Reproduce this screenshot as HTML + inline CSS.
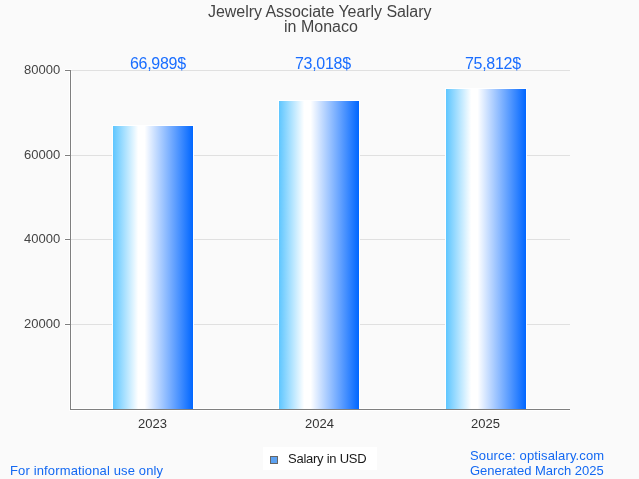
<!DOCTYPE html>
<html><head><meta charset="utf-8">
<style>
html,body{margin:0;padding:0;}
body{width:639px;height:479px;background:#fafafa;position:relative;overflow:hidden;font-family:"Liberation Sans",sans-serif;}
.t{position:absolute;white-space:nowrap;line-height:1;will-change:transform;}
#title1,#title2{color:#444;font-size:16px;}
.val{color:#1a6eff;font-size:16px;letter-spacing:-0.3px;}
.yl{color:#444;font-size:13px;}
.xl{color:#333;font-size:13px;}
.ft{color:#1469f2;font-size:13px;}
svg{position:absolute;left:0;top:0;}
</style></head><body>
<svg width="639" height="479" viewBox="0 0 639 479" shape-rendering="crispEdges">
<defs>
<linearGradient id="g" x1="0" y1="0" x2="1" y2="0">
<stop offset="0" stop-color="#5ec6ff"/>
<stop offset="0.315" stop-color="#ffffff"/>
<stop offset="0.395" stop-color="#ffffff"/>
<stop offset="1" stop-color="#0066ff"/>
</linearGradient>
</defs>
<!-- axis halos -->
<g fill="#ffffff">
<rect x="69" y="69" width="3" height="342"/>
<rect x="69" y="408" width="501" height="3"/>
<rect x="65" y="69" width="5" height="3"/><rect x="64" y="70" width="1" height="1"/>
<rect x="65" y="154" width="5" height="3"/><rect x="64" y="155" width="1" height="1"/>
<rect x="65" y="238" width="5" height="3"/><rect x="64" y="239" width="1" height="1"/>
<rect x="65" y="323" width="5" height="3"/><rect x="64" y="324" width="1" height="1"/>
</g>
<!-- gridlines -->
<g fill="#e0e0e0">
<rect x="71" y="70" width="499" height="1"/>
<rect x="71" y="155" width="499" height="1"/>
<rect x="71" y="239" width="499" height="1"/>
<rect x="71" y="324" width="499" height="1"/>
</g>
<!-- bars -->
<rect x="112" y="125" width="82" height="284" fill="#fff"/>
<rect x="113" y="126" width="80" height="283" fill="url(#g)"/>
<rect x="278" y="100" width="82" height="309" fill="#fff"/>
<rect x="279" y="101" width="80" height="308" fill="url(#g)"/>
<rect x="445" y="88" width="82" height="321" fill="#fff"/>
<rect x="446" y="89" width="80" height="320" fill="url(#g)"/>
<!-- axes -->
<g fill="#7f7f7f">
<rect x="70" y="70" width="1" height="340"/>
<rect x="70" y="409" width="500" height="1"/>
<rect x="65" y="70" width="5" height="1"/>
<rect x="65" y="155" width="5" height="1"/>
<rect x="65" y="239" width="5" height="1"/>
<rect x="65" y="324" width="5" height="1"/>
</g>
<!-- legend box -->
<rect x="263" y="447" width="114" height="23" fill="#ffffff"/>
<rect x="270" y="456" width="8" height="8" fill="#666"/>
<rect x="271" y="457" width="6" height="6" fill="#5ca2f2"/>
</svg>
<div class="t" id="title1" style="left:208px;top:4px;letter-spacing:-0.05px;">Jewelry Associate Yearly Salary</div>
<div class="t" id="title2" style="left:284px;top:19px;">in Monaco</div>
<div class="t val" id="v1" style="left:130px;top:56px;">66,989$</div>
<div class="t val" id="v2" style="left:295px;top:56px;">73,018$</div>
<div class="t val" id="v3" style="left:465px;top:56px;">75,812$</div>
<div class="t yl" id="y80" style="left:24px;top:63px;">80000</div>
<div class="t yl" id="y60" style="left:24px;top:148px;">60000</div>
<div class="t yl" id="y40" style="left:24px;top:232px;">40000</div>
<div class="t yl" id="y20" style="left:24px;top:317px;">20000</div>
<div class="t xl" id="x1" style="left:138px;top:417px;">2023</div>
<div class="t xl" id="x2" style="left:305px;top:417px;">2024</div>
<div class="t xl" id="x3" style="left:471px;top:417px;">2025</div>
<div class="t" id="leg" style="left:288px;top:452px;font-size:13px;color:#1a1a1a;letter-spacing:-0.25px;">Salary in USD</div>
<div class="t ft" id="f1" style="left:10px;top:464px;letter-spacing:0.14px;">For informational use only</div>
<div class="t ft" id="f2" style="left:470px;top:449px;letter-spacing:0.14px;">Source: optisalary.com</div>
<div class="t ft" id="f3" style="left:470px;top:464px;">Generated March 2025</div>
</body></html>
